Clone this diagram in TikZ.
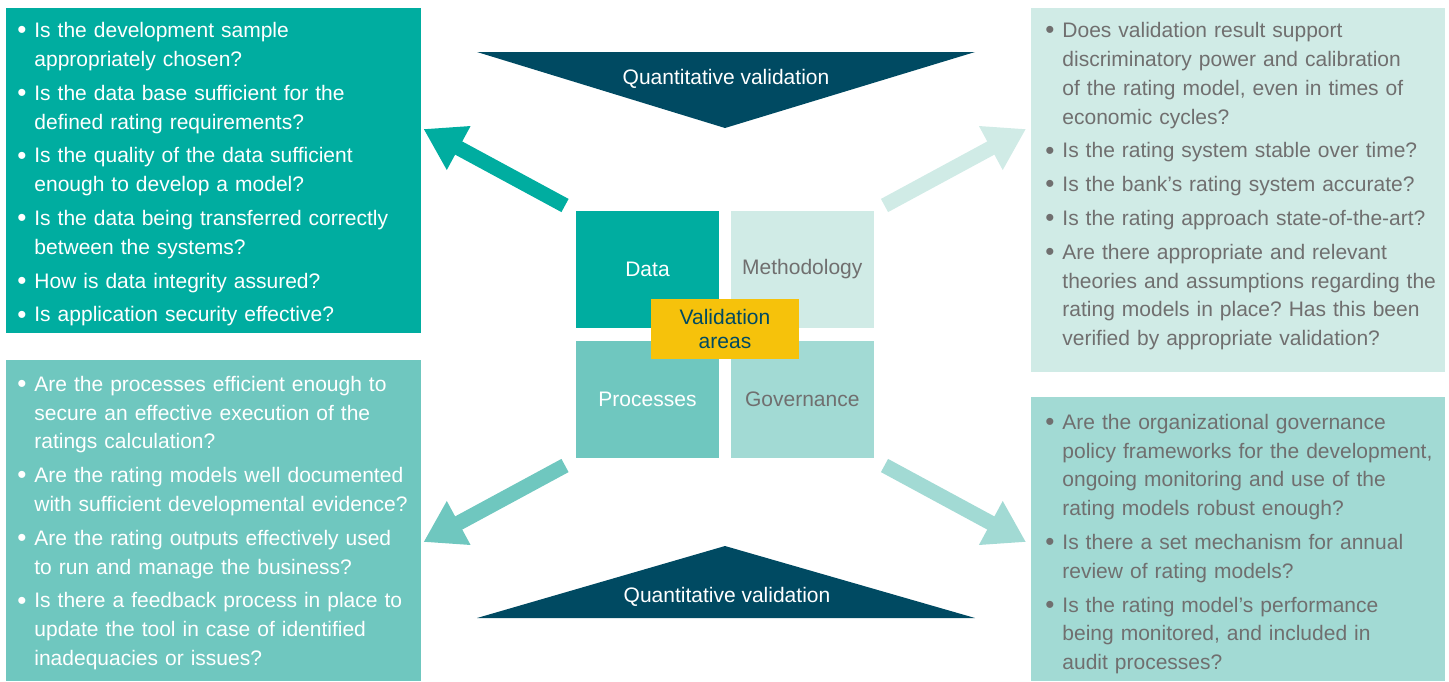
\documentclass[tikz,border=0pt]{standalone}
\usepackage{fontspec}
\setmainfont{Liberation Sans}
\usetikzlibrary{arrows.meta,positioning}
\frenchspacing

\definecolor{datateal}{HTML}{00ADA0}
\definecolor{methteal}{HTML}{D0EBE6}
\definecolor{procteal}{HTML}{6FC7BF}
\definecolor{govteal}{HTML}{A2DAD4}
\definecolor{navy}{HTML}{004A62}
\definecolor{areayellow}{HTML}{F6C20B}
\definecolor{txtgray}{HTML}{706F6F}

\newcommand{\qfont}{\fontsize{10.5}{14.4}\selectfont}
\newcommand{\qbullet}{\raisebox{-0.6pt}{\fontsize{13}{13}\selectfont\textbullet}}
\newcommand{\qitem}[1]{\par\hangindent=8.5pt\hangafter=1\noindent\makebox[8.5pt][l]{\qbullet}#1\par}

\begin{document}
\begin{tikzpicture}[x=0.5pt,y=-0.5pt,
    panel/.style={anchor=north west,inner sep=0pt,outer sep=0pt},
    qlist/.style={anchor=north west,inner sep=0pt,text width=215pt,align=left,font=\qfont,
      execute at begin node=\setlength{\parskip}{2.5pt}},
    square/.style={minimum width=71.5pt,minimum height=58.5pt,inner sep=0pt,font=\qfont},
    bigarrow/.style={line width=7.5pt,-{Triangle[length=20pt,width=23.5pt]}},
    node distance=6pt and 5.5pt]
  \useasboundingbox (0,0) rectangle (1449,681);

  \node[panel,fill=datateal,minimum width=207.5pt,minimum height=162.5pt] (dataBox) at (6,8) {};
  \node[panel,fill=methteal,minimum width=207pt,minimum height=182pt] (methBox) at (1031,8) {};
  \node[panel,fill=procteal,minimum width=207.5pt,minimum height=160.5pt] (procBox) at (6,360) {};
  \node[panel,fill=govteal,minimum width=207pt,minimum height=142pt] (govBox) at (1031,397) {};

  \node[qlist,text=white] (dataText) at (17,3.5) {%
    \qitem{Is the development sample\newline appropriately chosen?}
    \qitem{Is the data base sufficient for the\newline defined rating requirements?}
    \qitem{Is the quality of the data sufficient\newline enough to develop a model?}
    \qitem{Is the data being transferred correctly\newline between the systems?}
    \qitem{How is data integrity assured?}
    \qitem{Is application security effective?}};
  \node[qlist,text=txtgray] (methText) at (1045,3.5) {%
    \qitem{Does validation result support\newline discriminatory power and calibration\newline of the rating model, even in times of\newline economic cycles?}
    \qitem{Is the rating system stable over time?}
    \qitem{Is the bank’s rating system accurate?}
    \qitem{Is the rating approach state-of-the-art?}
    \qitem{Are there appropriate and relevant\newline theories and assumptions regarding the\newline rating models in place? Has this been\newline verified by appropriate validation?}};
  \node[qlist,text=white] (procText) at (17,357) {%
    \qitem{Are the processes efficient enough to\newline secure an effective execution of the\newline ratings calculation?}
    \qitem{Are the rating models well documented\newline with sufficient developmental evidence?}
    \qitem{Are the rating outputs effectively used\newline to run and manage the business?}
    \qitem{Is there a feedback process in place to\newline update the tool in case of identified\newline inadequacies or issues?}};
  \node[qlist,text=txtgray] (govText) at (1045,395) {%
    \qitem{Are the organizational governance\newline policy frameworks for the development,\newline ongoing monitoring and use of the\newline rating models robust enough?}
    \qitem{Is there a set mechanism for annual\newline review of rating models?}
    \qitem{Is the rating model’s performance\newline being monitored, and included in\newline audit processes?}};

  \node[square,fill=datateal,text=white] (dataSq) at (647.5,269.5) {Data};
  \node[square,fill=methteal,text=txtgray,right=of dataSq] (methSq) {Methodology};
  \node[square,fill=procteal,text=white,below=of dataSq] (procSq) {Processes};
  \node[square,fill=govteal,text=txtgray,right=of procSq] (govSq) {Governance};
  \node[fill=areayellow,text=navy,minimum width=74pt,minimum height=30pt,inner sep=0pt,
    align=center,font=\fontsize{10.5}{12}\selectfont] (areas) at (725,329) {Validation\\areas};

  \fill[navy] (477,52) -- (975,52) -- (725,128) -- cycle;
  \fill[navy] (477,618) -- (975,618) -- (725,546) -- cycle;
  \node[text=white,font=\qfont] (quantTop) at (726,79) {Quantitative validation};
  \node[text=white,font=\qfont] (quantBot) at (727,597) {Quantitative validation};

  \coordinate (dataTail) at (565,205.5);
  \coordinate (dataTip) at (423.5,129);
  \coordinate (methTail) at (884.5,205.5);
  \coordinate (methTip) at (1026,129);
  \coordinate (procTail) at (565,465.5);
  \coordinate (procTip) at (423.5,542);
  \coordinate (govTail) at (884.5,465.5);
  \coordinate (govTip) at (1026,542);
  \draw[bigarrow,datateal] (dataTail) -- (dataTip);
  \draw[bigarrow,methteal] (methTail) -- (methTip);
  \draw[bigarrow,procteal] (procTail) -- (procTip);
  \draw[bigarrow,govteal] (govTail) -- (govTip);
\end{tikzpicture}
\end{document}
